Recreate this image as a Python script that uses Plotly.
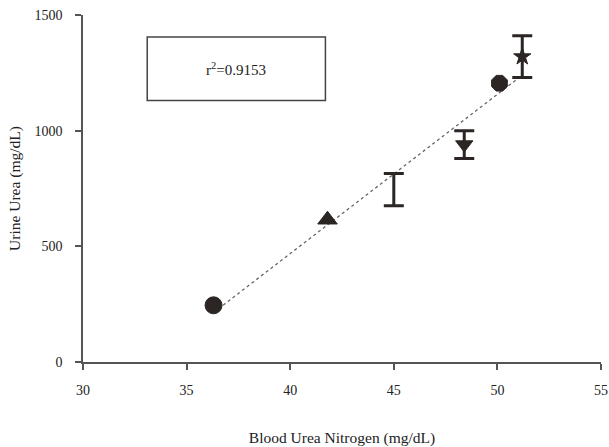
import numpy as np
import plotly.graph_objects as go

# Data
bun = [36.3, 41.8, 45.0, 48.4, 50.1, 51.2]          # Blood Urea Nitrogen (mg/dL)
urine_urea = [245, 615, 745, 940, 1205, 1320]        # Urine Urea (mg/dL)
urine_err = [0, 0, 70, 60, 0, 90]
symbols = ["circle", "triangle-up", "line-ew", "triangle-down", "octagon", "star"]
sizes = [17, 17, 1, 15, 17, 13]
r2_text = "r<sup>2</sup>=0.9153"
x_ticks = [30, 35, 40, 45, 50, 55]
y_ticks = [0, 500, 1000, 1500]

ink = "#2b2523"
font_family = "Liberation Serif, Times New Roman, serif"

fig = go.Figure()

# regression line
coef = np.polyfit(bun, urine_urea, 1)
xl = np.array([min(bun), max(bun)])
fig.add_trace(go.Scatter(
    x=xl, y=np.polyval(coef, xl), mode="lines",
    line=dict(color="#666666", width=1.3, dash="dot"),
    showlegend=False, hoverinfo="skip"))

for i in range(len(bun)):
    fig.add_trace(go.Scatter(
        x=[bun[i]], y=[urine_urea[i]], mode="markers",
        marker=dict(symbol=symbols[i], size=sizes[i], color=ink,
                    line=dict(color=ink, width=1)),
        error_y=dict(type="data", array=[urine_err[i]], visible=urine_err[i] > 0,
                     color=ink, thickness=3, width=10),
        showlegend=False))

fig.add_shape(type="rect", xref="x", yref="y", x0=33.1, x1=41.7, y0=1130, y1=1405,
              line=dict(color="#444444", width=1.5), fillcolor="rgba(0,0,0,0)")
fig.add_annotation(x=37.4, y=1267, xref="x", yref="y", text=r2_text, showarrow=False,
                   font=dict(family=font_family, size=15, color="#222222"))

fig.update_layout(
    width=609, height=447,
    margin=dict(l=83, r=8, t=15, b=85),
    paper_bgcolor="white", plot_bgcolor="white",
    font=dict(family=font_family, size=14, color="#222222"),
)
fig.update_xaxes(
    range=[30, 55], tickvals=x_ticks, ticks="outside", ticklen=6, tickwidth=1.5,
    tickcolor="#555555", showline=True, linecolor="#555555", linewidth=1.5,
    showgrid=False, zeroline=False, automargin=False, ticklabelstandoff=8,
    ticklabeloverflow="allow",
    title=dict(text="Blood Urea Nitrogen (mg/dL)", standoff=38,
               font=dict(family=font_family, size=15.5)),
    tickfont=dict(size=14),
)
fig.update_yaxes(
    range=[0, 1500], tickvals=y_ticks, ticks="outside", ticklen=6, tickwidth=1.5,
    tickcolor="#555555", showline=True, linecolor="#555555", linewidth=1.5,
    showgrid=False, zeroline=False, automargin=False, ticklabelstandoff=10,
    ticklabeloverflow="allow",
    title=dict(text="Urine Urea (mg/dL)", standoff=10,
               font=dict(family=font_family, size=15.5)),
    tickfont=dict(size=14),
)

# remove the default page margin so the 609x447 figure fills the window exactly
fig.write_html(
    "out.html",
    config={"displayModeBar": False},
    post_script="document.body.style.margin='0';document.body.style.overflow='hidden';",
)
